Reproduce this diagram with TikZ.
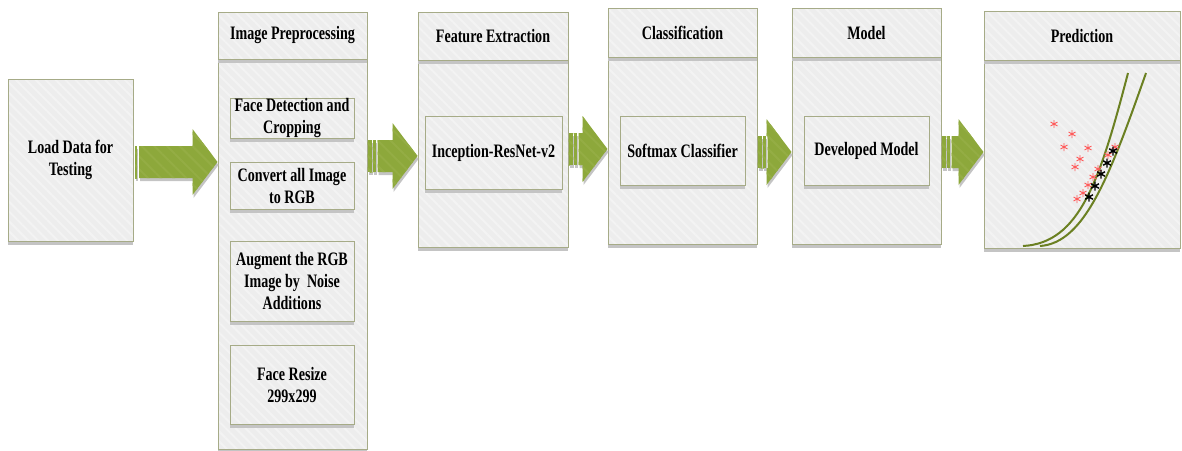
\documentclass[tikz,border=0pt]{standalone}
\usepackage{fontspec}
\setmainfont[FakeStretch=0.74]{Liberation Serif}
\usepackage{xcolor}
\usetikzlibrary{calc,shadows,patterns.meta,plotmarks}

\definecolor{boxfill}{HTML}{EDEDED}
\definecolor{boxline}{HTML}{A6AB87}
\definecolor{shadowgray}{HTML}{C4C4C4}
\definecolor{arrowgreen}{HTML}{8DA83B}
\definecolor{arrowstripe}{HTML}{94AD44}
\definecolor{curvegreen}{HTML}{6B8022}
\definecolor{starred}{HTML}{FF5A5A}

% block arrow from node #1 to node #2 at height #3, tail bars #4, body start #5
\newcommand\flowarrow[5]{%
  \coordinate (A) at (#1.east |- 0,#3);
  \coordinate (B) at (#2.west |- 0,#3);
  \foreach \a/\b in {#4}
    \fill[bigarrow] ($(A)+(\a,16)$) rectangle ($(A)+(\b,-16)$);
  \fill[bigarrow] ($(A)+(#5,16)$) -- ($(B)+(-25,16)$) -- ($(B)+(-25,33)$)
    -- (B) -- ($(B)+(-25,-33)$) -- ($(B)+(-25,-16)$) -- ($(A)+(#5,-16)$) -- cycle;
}

\begin{document}
\begin{tikzpicture}[
    x=1pt, y=-1pt,
    font=\bfseries\fontsize{19}{22}\selectfont,
    every node/.style={align=center},
    box/.style={
        rectangle,
        draw=boxline,
        line width=1pt,
        inner sep=0pt,
        drop shadow={shadow xshift=0pt, shadow yshift=-3.5pt, fill=shadowgray, opacity=1},
        preaction={fill=boxfill},
        pattern={Lines[angle=-45,distance=7pt,line width=2pt]},
        pattern color=white!35!boxfill
    },
    bigarrow/.style={
        drop shadow={shadow xshift=1pt, shadow yshift=-3pt, fill=shadowgray, opacity=1},
        preaction={fill=arrowgreen},
        pattern={Lines[angle=-45,distance=9pt,line width=2pt]},
        pattern color=arrowstripe
    },
    curve/.style={draw=curvegreen, line width=2pt},
]
\useasboundingbox (0,0) rectangle (1182,450);

% Input
\node[box, minimum width=125, minimum height=162] (load) at (70.5,160) {Load Data for\\Testing};

% Image Preprocessing
\node[box, minimum width=149, minimum height=390] (prepbody) at (292.5,254) {};
\node[box, minimum width=149, minimum height=47] (prep) at (292.5,35.5) {Image Preprocessing};
\node[box, minimum width=124, minimum height=39] (face) at (292,118.5) {Face Detection and\\Cropping};
\node[box, minimum width=124, minimum height=47] (rgb) at (292,185.5) {Convert all Image\\to RGB};
\node[box, minimum width=124, minimum height=80] (augment) at (292,281) {Augment the RGB\\Image by~~Noise\\Additions};
\node[box, minimum width=124, minimum height=79] (resize) at (292,384.5) {Face Resize\\299x299};

% Feature Extraction
\node[box, minimum width=150, minimum height=187] (featbody) at (493,153.5) {};
\node[box, minimum width=150, minimum height=48] (feat) at (493,36) {Feature Extraction};
\node[box, minimum width=137, minimum height=73] (incep) at (493.5,152.5) {Inception-ResNet-v2};

% Classification
\node[box, minimum width=149, minimum height=187] (clsbody) at (682.5,150.5) {};
\node[box, minimum width=149, minimum height=49] (cls) at (682.5,32.5) {Classification};
\node[box, minimum width=125, minimum height=69] (softmax) at (682.5,150.5) {Softmax Classifier};

% Model
\node[box, minimum width=149, minimum height=187] (modbody) at (866.5,150.5) {};
\node[box, minimum width=149, minimum height=49] (mod) at (866.5,32.5) {Model};
\node[box, minimum width=125, minimum height=69] (devmodel) at (866.5,150.5) {Developed Model};

% Prediction
\node[box, minimum width=196, minimum height=188] (predbody) at (1082,154) {};
\node[box, minimum width=196, minimum height=49] (pred) at (1082,35.5) {Prediction};

% Plot in prediction
\draw[curve] (1023,246) .. controls (1080,243) and (1100,180) .. (1128,73);
\draw[curve] (1040,246) .. controls (1085,243) and (1110,175) .. (1146,73);
\draw[starred, line width=0.9pt] plot[only marks, mark=asterisk, mark size=4pt] coordinates {
    (1054,124) (1072,134) (1064,147) (1088,148) (1080,159) (1075,167)
    (1098,169) (1093,177) (1088,185) (1083,193) (1077,199) (1108,155) (1115,147)};
\draw[black, line width=1.4pt] plot[only marks, mark=asterisk, mark size=4.5pt] coordinates {
    (1113,151) (1107,163) (1101,174) (1095,186) (1089,197)};

% Connections
\flowarrow{load}{prepbody}{162}{1/3}{5}
\flowarrow{prepbody}{featbody}{156}{0/4,5/8}{10}
\flowarrow{featbody}{clsbody}{149}{0/4,5/8}{10}
\flowarrow{clsbody}{modbody}{152}{0/4,5/8}{10}
\flowarrow{modbody}{predbody}{152}{0/4,5/8}{10}

\end{tikzpicture}
\end{document}
